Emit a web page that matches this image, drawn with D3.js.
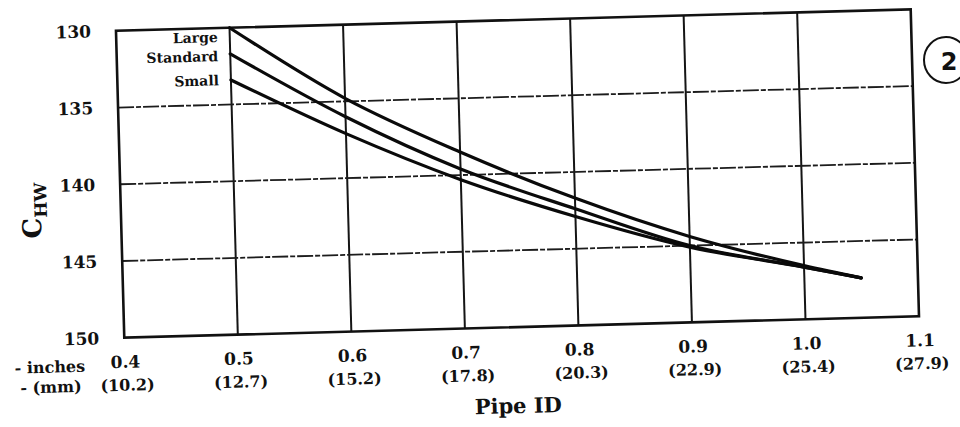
<!DOCTYPE html>
<html>
<head>
<meta charset="utf-8">
<script src="https://cdn.jsdelivr.net/npm/d3@7"></script>
<style>
  html, body { margin: 0; padding: 0; background: #ffffff; }
  svg { display: block; }
  text { font-family: "DejaVu Serif", "Liberation Serif", serif; font-weight: bold; fill: #111; }
</style>
</head>
<body>
<svg id="chart" width="960" height="427"></svg>
<script>
// ---- data ----
const xTicks = [0.4, 0.5, 0.6, 0.7, 0.8, 0.9, 1.0, 1.1];
const xTickLabels = ["0.4", "0.5", "0.6", "0.7", "0.8", "0.9", "1.0", "1.1"];
const mmLabels = ["(10.2)", "(12.7)", "(15.2)", "(17.8)", "(20.3)", "(22.9)", "(25.4)", "(27.9)"];
const yTicks = [130, 135, 140, 145, 150];
const seriesNames = ["Large", "Standard", "Small"];
const pipeID = [0.5, 0.6, 0.7, 0.8, 0.9, 1.0, 1.05];
const largeC = [130.0, 134.8, 138.5, 141.7, 144.4, 146.5, 147.4];
const standardC = [131.7, 136.0, 139.6, 142.4, 145.0, 146.6, 147.4];
const smallC = [133.4, 137.1, 140.3, 142.9, 145.1, 146.6, 147.4];

const seriesValues = [largeC, standardC, smallC];

// ---- layout ----
const svg = d3.select("#chart");
const pLeft = 120, pRight = 915, pTop = 20, pBottom = 327;
const x = d3.scaleLinear().domain([0.4, 1.1]).range([pLeft, pRight]);
const y = d3.scaleLinear().domain([130, 150]).range([pTop, pBottom]);

// whole scanned figure is slightly tilted
const g = svg.append("g").attr("transform", "rotate(-1.55, 518, 174)");

// vertical grid lines (solid)
g.append("g").selectAll("line")
  .data(xTicks.slice(1, -1))
  .join("line")
  .attr("x1", d => x(d)).attr("x2", d => x(d))
  .attr("y1", pTop).attr("y2", pBottom)
  .attr("stroke", "#151515").attr("stroke-width", 2);

// horizontal grid lines (dashed)
g.append("g").selectAll("line")
  .data(yTicks.slice(1, -1))
  .join("line")
  .attr("x1", pLeft).attr("x2", pRight)
  .attr("y1", d => y(d)).attr("y2", d => y(d))
  .attr("stroke", "#1c1c1c").attr("stroke-width", 1.8)
  .attr("stroke-dasharray", "16,2,5,2");

// frame
g.append("rect")
  .attr("x", pLeft).attr("y", pTop)
  .attr("width", pRight - pLeft).attr("height", pBottom - pTop)
  .attr("fill", "none").attr("stroke", "#111").attr("stroke-width", 2.6);

// y axis labels
const yAxis = d3.axisLeft(y).tickValues(yTicks).tickSize(0).tickPadding(25).tickFormat(d3.format("d"));
const ya = g.append("g").attr("transform", `translate(${pLeft},0)`).call(yAxis);
ya.select(".domain").remove();
ya.selectAll("text")
  .style("font-family", "'DejaVu Serif', serif").style("font-weight", "bold")
  .style("font-size", "17px").attr("fill", "#111");

// x axis labels (inches)
const xAxis = d3.axisBottom(x).tickValues(xTicks).tickSize(0).tickPadding(18)
  .tickFormat((d, i) => xTickLabels[i]);
const xa = g.append("g").attr("transform", `translate(0,${pBottom})`).call(xAxis);
xa.select(".domain").remove();
xa.selectAll("text")
  .style("font-family", "'DejaVu Serif', serif").style("font-weight", "bold")
  .style("font-size", "17px").attr("fill", "#111");

// x axis labels (mm)
g.append("g").selectAll("text")
  .data(xTicks)
  .join("text")
  .attr("x", d => x(d) + 2)
  .attr("y", pBottom + 53)
  .attr("text-anchor", "middle")
  .style("font-size", "16px")
  .text((d, i) => mmLabels[i]);

// unit labels
g.append("text").attr("x", 80).attr("y", pBottom + 33).attr("text-anchor", "end")
  .style("font-size", "16px").text("- inches");
g.append("text").attr("x", 76).attr("y", pBottom + 53).attr("text-anchor", "end")
  .style("font-size", "16px").text("- (mm)");

// axis titles
g.append("text").attr("x", 512).attr("y", pBottom + 86).attr("text-anchor", "middle")
  .style("font-size", "21px").text("Pipe ID");

const yt = g.append("text")
  .attr("transform", `translate(40, ${(pTop + pBottom) / 2 + 24}) rotate(-90)`)
  .attr("text-anchor", "middle");
yt.append("tspan").style("font-size", "26px").text("C");
yt.append("tspan").attr("dy", 6).style("font-size", "17px").text("HW");

// curves
const line = d3.line()
  .x(d => x(d[0])).y(d => y(d[1]))
  .curve(d3.curveMonotoneX);

g.append("g").selectAll("path")
  .data(seriesValues)
  .join("path")
  .attr("d", vals => line(pipeID.map((p, i) => [p, vals[i]])))
  .attr("fill", "none")
  .attr("stroke", "#0a0a0a")
  .attr("stroke-width", 3.2)
  .attr("stroke-linecap", "round");

// curve labels
g.append("g").selectAll("text")
  .data(seriesNames)
  .join("text")
  .attr("x", x(0.5) - 12)
  .attr("y", (d, i) => y(seriesValues[i][0]) + (i === 0 ? 14 : (i === 1 ? 7 : 5)))
  .attr("text-anchor", "end")
  .style("font-size", "14px")
  .text(d => d);

// circled figure marker at right edge
svg.append("ellipse").attr("cx", 946).attr("cy", 60).attr("rx", 22).attr("ry", 23)
  .attr("fill", "none").attr("stroke", "#111").attr("stroke-width", 2);
svg.append("text").attr("x", 949).attr("y", 70).attr("text-anchor", "middle")
  .style("font-size", "24px").style("font-family", "'DejaVu Sans', sans-serif").text("2");
</script>
</body>
</html>
